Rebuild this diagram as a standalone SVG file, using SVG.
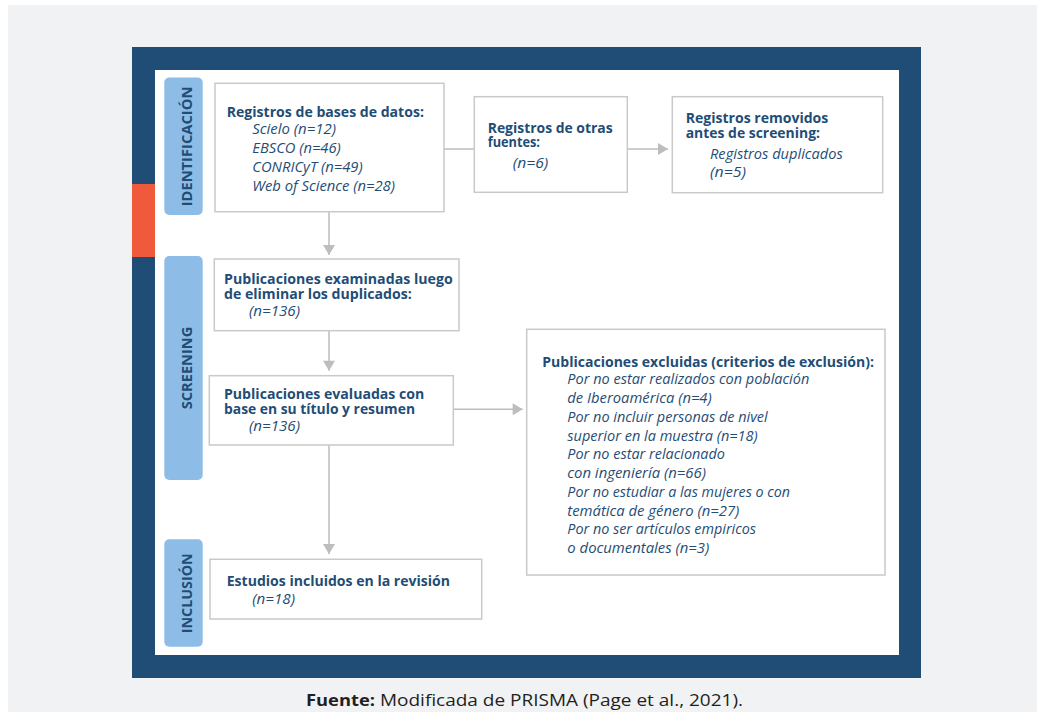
<svg xmlns="http://www.w3.org/2000/svg" width="1037" height="712" viewBox="0 0 1037 712">
<defs>
<style>
.bg{fill:#f1f2f4}
.frame{fill:#1f4d76}
.inner{fill:#ffffff}
.accent{fill:#f05a3c}
.pill{fill:#8dbde6}
.box{fill:#ffffff;stroke:#c9c9c9;stroke-width:1.5}
.conn{stroke:#bdbdbf;stroke-width:1.5;fill:none}
.b{font-family:"Open Sans","Noto Sans",sans-serif;font-weight:700;font-size:14.5px;fill:#1f4d76}
.i{font-family:"Open Sans","Noto Sans",sans-serif;font-style:italic;font-size:14.5px;fill:#1f4d76}
.lab{font-family:"Open Sans","Noto Sans",sans-serif;font-weight:700;font-size:13.5px;fill:#1f4d76}
.cap{font-family:"Open Sans","Noto Sans",sans-serif;font-size:16px;fill:#231f20}
</style>
<marker id="ah" markerUnits="userSpaceOnUse" markerWidth="12" markerHeight="12" viewBox="0 0 10 12" refX="10" refY="6" orient="auto">
<path d="M0,0 L10,6 L0,12 Z" fill="#bdbdbf"/>
</marker>
</defs>
<rect x="0" y="0" width="1037" height="712" fill="#ffffff"/>
<rect class="bg" x="8" y="5" width="1029" height="707"/>
<rect class="frame" x="132" y="47" width="789" height="631"/>
<rect class="inner" x="155" y="70" width="744" height="585"/>
<rect class="accent" x="132" y="184" width="23" height="73"/>

<g id="label-identificacion">
<rect class="pill" x="164.3" y="77.5" width="38.4" height="137.5" rx="5"/>
<text class="lab" transform="translate(191.5,146.5) rotate(-90)" text-anchor="middle" textLength="119.7" lengthAdjust="spacingAndGlyphs">IDENTIFICACIÓN</text>
</g>
<g id="label-screening">
<rect class="pill" x="164.3" y="256" width="38.4" height="224" rx="5"/>
<text class="lab" transform="translate(191.5,368) rotate(-90)" text-anchor="middle" textLength="82.6" lengthAdjust="spacingAndGlyphs">SCREENING</text>
</g>
<g id="label-inclusion">
<rect class="pill" x="164.3" y="539.3" width="38.4" height="107.4" rx="5"/>
<text class="lab" transform="translate(191.5,593.3) rotate(-90)" text-anchor="middle" textLength="80" lengthAdjust="spacingAndGlyphs">INCLUSIÓN</text>
</g>

<g id="connectors">
<line class="conn" x1="329" y1="211.7" x2="329" y2="255" marker-end="url(#ah)"/>
<line class="conn" x1="444" y1="149" x2="474.3" y2="149"/>
<line class="conn" x1="627.3" y1="149" x2="668" y2="149" marker-end="url(#ah)"/>
<line class="conn" x1="329" y1="330.7" x2="329" y2="370.7" marker-end="url(#ah)"/>
<line class="conn" x1="453.3" y1="409.3" x2="522.7" y2="409.3" marker-end="url(#ah)"/>
<line class="conn" x1="329" y1="445" x2="329" y2="554" marker-end="url(#ah)"/>
</g>

<g id="node-bases">
<rect class="box" x="215" y="83.3" width="229" height="128.4"/>
<text class="b" x="226.7" y="116.7" textLength="197.3" lengthAdjust="spacingAndGlyphs">Registros de bases de datos:</text>
<text class="i" x="252.3" y="134" textLength="83.7" lengthAdjust="spacingAndGlyphs">Scielo (n=12)</text>
<text class="i" x="252.3" y="152.7" textLength="88.4" lengthAdjust="spacingAndGlyphs">EBSCO (n=46)</text>
<text class="i" x="252.3" y="171.7" textLength="110.4" lengthAdjust="spacingAndGlyphs">CONRICyT (n=49)</text>
<text class="i" x="252.3" y="190.7" textLength="142.7" lengthAdjust="spacingAndGlyphs">Web of Science (n=28)</text>
</g>

<g id="node-otras">
<rect class="box" x="474.3" y="96.7" width="153" height="95.6"/>
<text class="b" x="487.7" y="133.3" textLength="125" lengthAdjust="spacingAndGlyphs">Registros de otras</text>
<text class="b" x="487.7" y="146.7" textLength="52.3" lengthAdjust="spacingAndGlyphs">fuentes:</text>
<text class="i" x="512.7" y="168.3" textLength="35.6" lengthAdjust="spacingAndGlyphs">(n=6)</text>
</g>

<g id="node-removidos">
<rect class="box" x="672.3" y="96.7" width="210.4" height="96"/>
<text class="b" x="685.7" y="123.3" textLength="142.6" lengthAdjust="spacingAndGlyphs">Registros removidos</text>
<text class="b" x="685.7" y="138.3" textLength="134.3" lengthAdjust="spacingAndGlyphs">antes de screening:</text>
<text class="i" x="710" y="159" textLength="132.7" lengthAdjust="spacingAndGlyphs">Registros duplicados</text>
<text class="i" x="710" y="176.7" textLength="36" lengthAdjust="spacingAndGlyphs">(n=5)</text>
</g>

<g id="node-examinadas">
<rect class="box" x="214.3" y="259" width="244.7" height="71.7"/>
<text class="b" x="224" y="284.3" textLength="228.7" lengthAdjust="spacingAndGlyphs">Publicaciones examinadas luego</text>
<text class="b" x="224" y="299" textLength="187.7" lengthAdjust="spacingAndGlyphs">de eliminar los duplicados:</text>
<text class="i" x="249" y="316" textLength="51" lengthAdjust="spacingAndGlyphs">(n=136)</text>
</g>

<g id="node-evaluadas">
<rect class="box" x="209.3" y="375.7" width="244" height="69.3"/>
<text class="b" x="224" y="398.7" textLength="200.3" lengthAdjust="spacingAndGlyphs">Publicaciones evaluadas con</text>
<text class="b" x="224" y="413.7" textLength="191" lengthAdjust="spacingAndGlyphs">base en su título y resumen</text>
<text class="i" x="249" y="430.7" textLength="51" lengthAdjust="spacingAndGlyphs">(n=136)</text>
</g>

<g id="node-excluidas">
<rect class="box" x="526.7" y="329.3" width="358.3" height="245.7"/>
<text class="b" x="542.3" y="366.7" textLength="331.7" lengthAdjust="spacingAndGlyphs">Publicaciones excluidas (criterios de exclusión):</text>
<text class="i" x="567.3" y="384.3" textLength="242" lengthAdjust="spacingAndGlyphs">Por no estar realizados con población</text>
<text class="i" x="567.3" y="402.7" textLength="144.4" lengthAdjust="spacingAndGlyphs">de Iberoamérica (n=4)</text>
<text class="i" x="567.3" y="421.7" textLength="200.4" lengthAdjust="spacingAndGlyphs">Por no incluir personas de nivel</text>
<text class="i" x="567.3" y="440.7" textLength="190.4" lengthAdjust="spacingAndGlyphs">superior en la muestra (n=18)</text>
<text class="i" x="567.3" y="459.3" textLength="157.7" lengthAdjust="spacingAndGlyphs">Por no estar relacionado</text>
<text class="i" x="567.3" y="477.7" textLength="138.7" lengthAdjust="spacingAndGlyphs">con ingeniería (n=66)</text>
<text class="i" x="567.3" y="496.7" textLength="222.7" lengthAdjust="spacingAndGlyphs">Por no estudiar a las mujeres o con</text>
<text class="i" x="567.3" y="515.7" textLength="172" lengthAdjust="spacingAndGlyphs">temática de género (n=27)</text>
<text class="i" x="567.3" y="534.3" textLength="188.7" lengthAdjust="spacingAndGlyphs">Por no ser artículos empiricos</text>
<text class="i" x="567.3" y="553.3" textLength="142" lengthAdjust="spacingAndGlyphs">o documentales (n=3)</text>
</g>

<g id="node-incluidos">
<rect class="box" x="210" y="559.3" width="271.7" height="59.7"/>
<text class="b" x="226.7" y="586" textLength="223.3" lengthAdjust="spacingAndGlyphs">Estudios incluidos en la revisión</text>
<text class="i" x="252.3" y="604" textLength="42.7" lengthAdjust="spacingAndGlyphs">(n=18)</text>
</g>

<g id="caption">
<text class="cap" x="306" y="705.5" font-weight="700" textLength="69" lengthAdjust="spacingAndGlyphs">Fuente:</text>
<text class="cap" x="380" y="705.5" textLength="363" lengthAdjust="spacingAndGlyphs">Modificada de PRISMA (Page et al., 2021).</text>
</g>
</svg>
